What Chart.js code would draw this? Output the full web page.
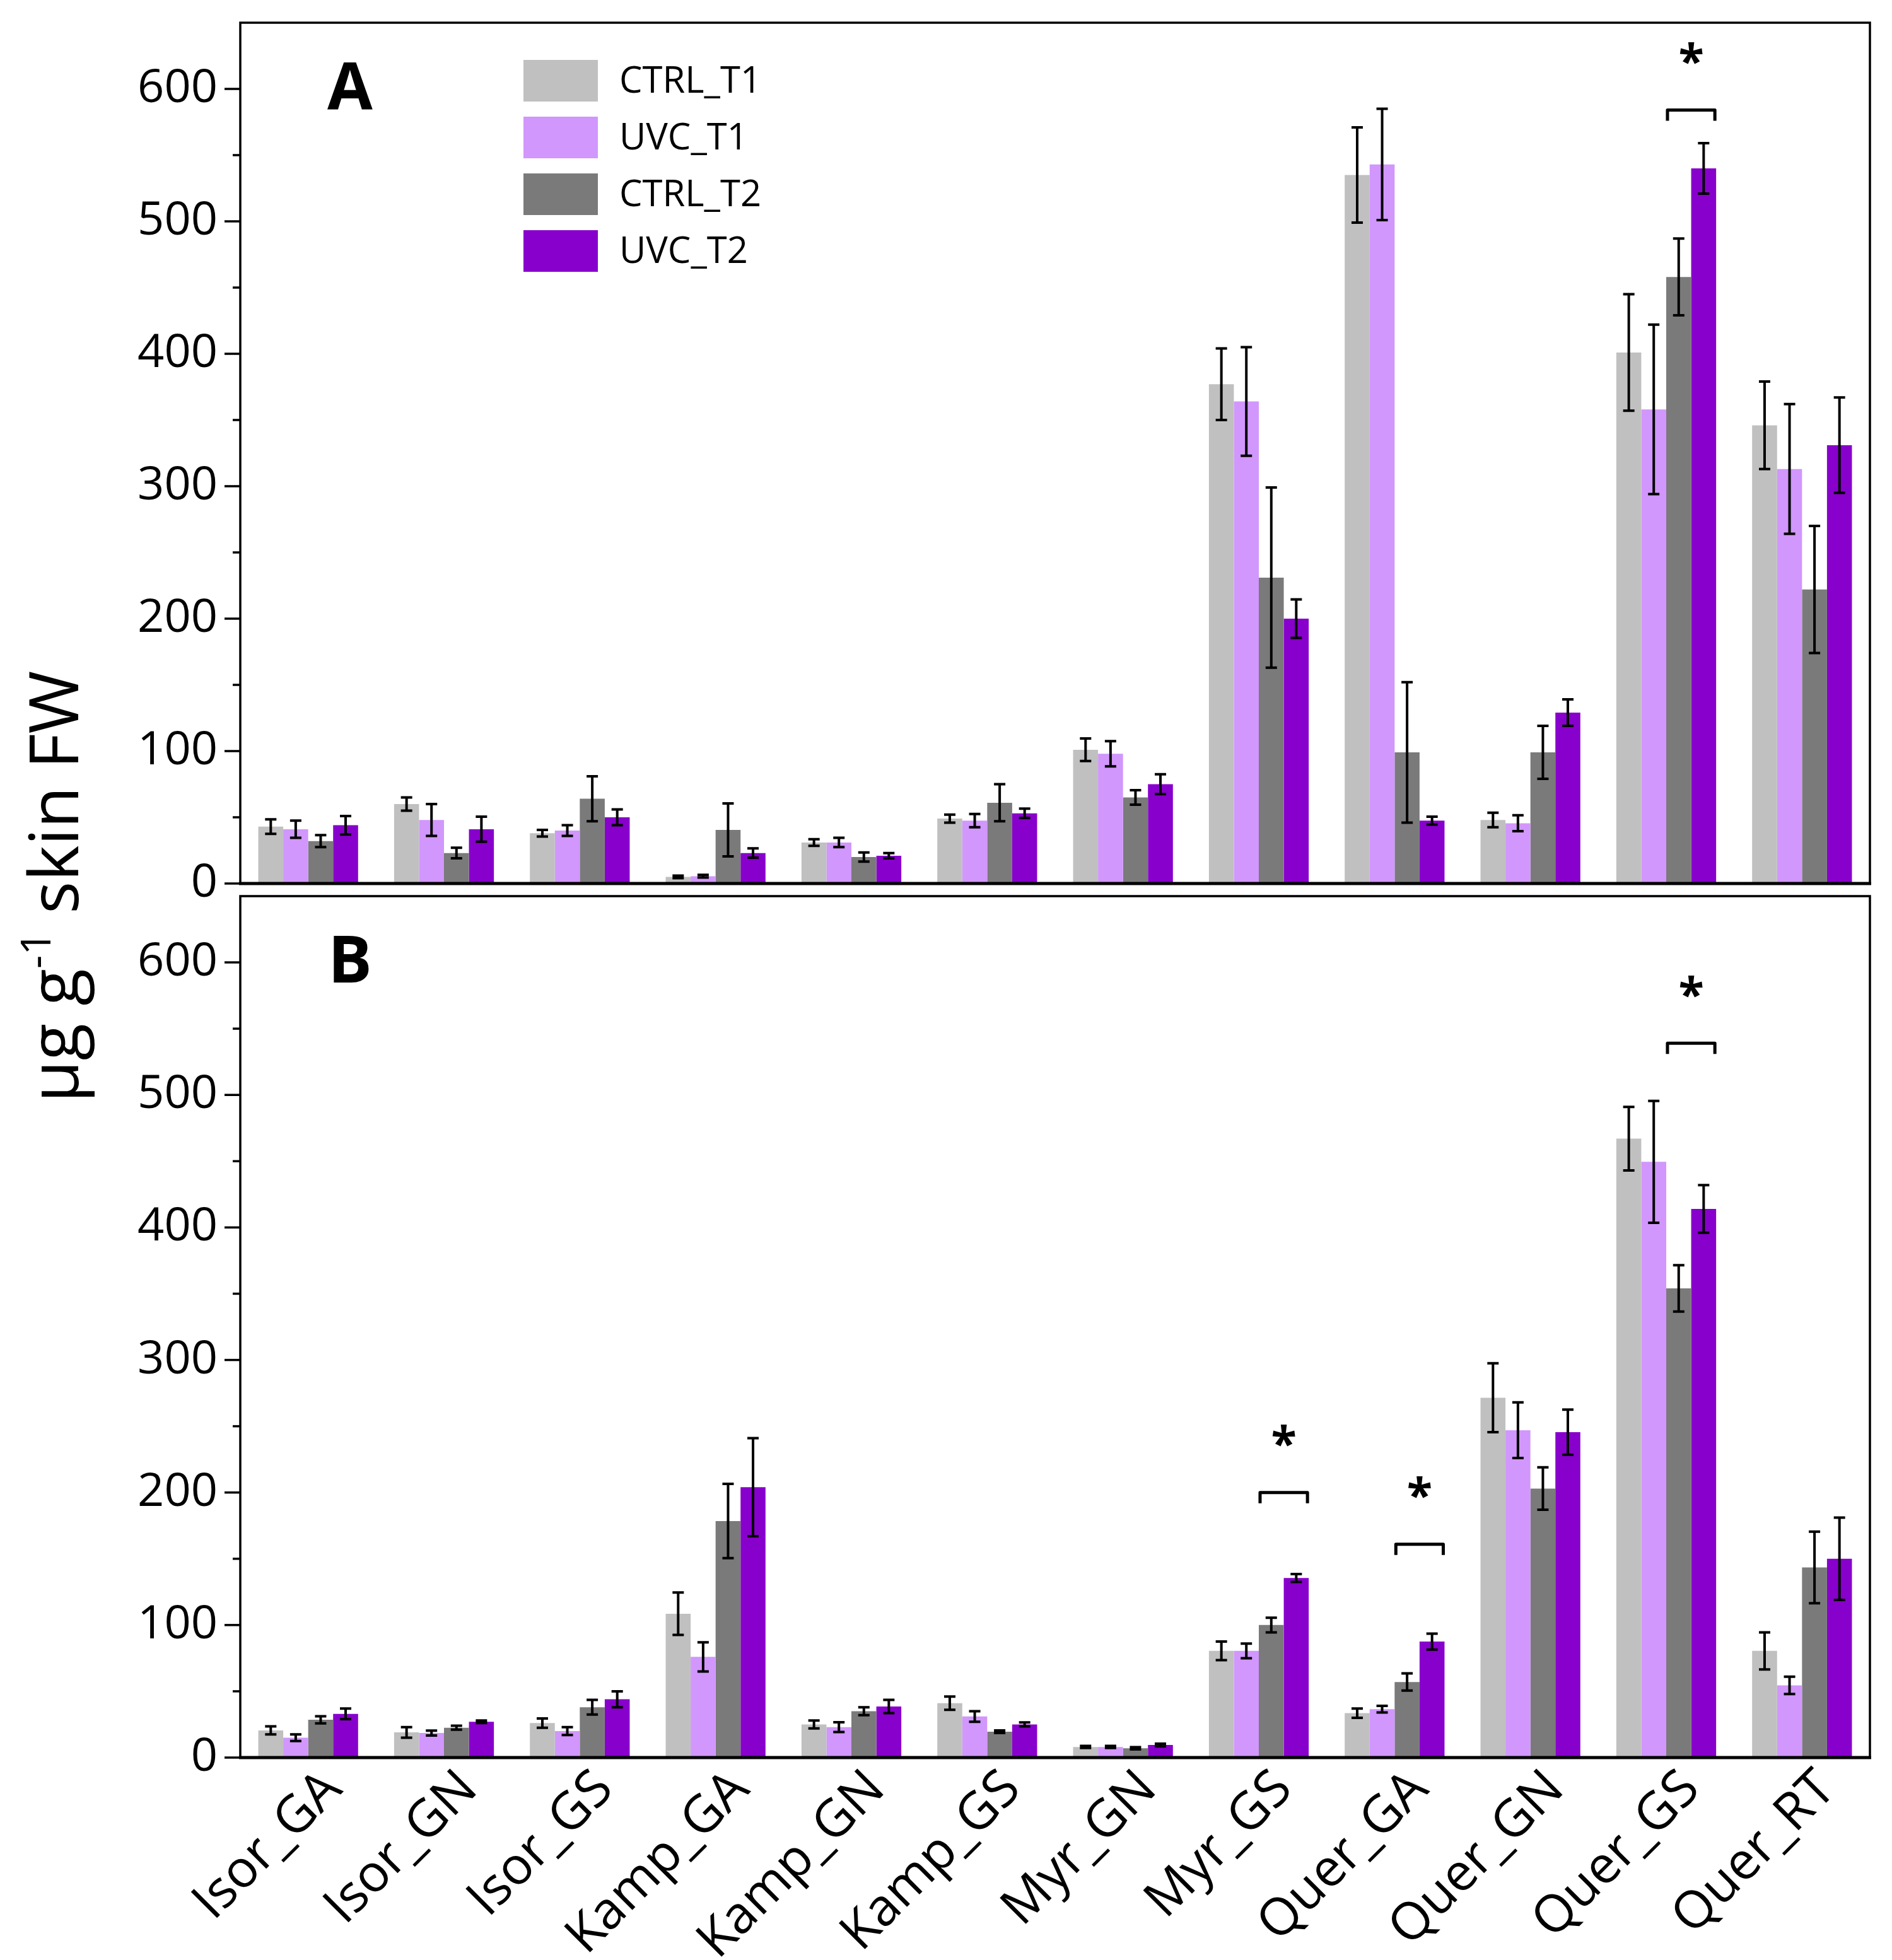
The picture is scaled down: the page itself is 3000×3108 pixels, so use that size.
<!DOCTYPE html>
<html>
<head>
<meta charset="utf-8">
<script src="https://cdn.jsdelivr.net/npm/chart.js@4.4.1/dist/chart.umd.min.js"></script>
<style>
    html, body { margin: 0; padding: 0; background: #fff; }
    #wrap { position: relative; width: 3000px; height: 3108px; }
    #wrap canvas { position: absolute; left: 0; top: 0; width: 3000px; height: 3108px; }
</style>
</head>
<body>
<div id="wrap">
    <canvas id="chartA" width="3000" height="3108"></canvas>
    <canvas id="chartB" width="3000" height="3108"></canvas>
</div>
<script>
/*-----------------------------Data-------------------------------------------------*/
const categories = ['Isor_GA', 'Isor_GN', 'Isor_GS', 'Kamp_GA', 'Kamp_GN', 'Kamp_GS',
    'Myr_GN', 'Myr_GS', 'Quer_GA', 'Quer_GN', 'Quer_GS', 'Quer_RT'];
const seriesNames = ['CTRL_T1', 'UVC_T1', 'CTRL_T2', 'UVC_T2'];
const yTickValues = [0, 100, 200, 300, 400, 500, 600];

// panel A
const ctrlT1A = [43, 60, 38, 5, 31, 49, 101, 377, 535, 48, 401, 346];
const uvcT1A = [41, 48, 40, 5.5, 31, 47.5, 98, 364, 543, 45.5, 358, 313];
const ctrlT2A = [32, 23, 64, 40.5, 20, 61, 65, 231, 99, 99, 458, 222];
const uvcT2A = [44, 41, 50, 23, 21, 53, 75, 200, 47.5, 129, 540, 331];
const ctrlT1AErr = [5.5, 5, 2.5, 1, 2.5, 3, 8.5, 27, 36, 5.5, 44, 33];
const uvcT1AErr = [6.5, 12, 4, 1, 3.5, 5, 9.5, 41, 42, 6, 64, 49];
const ctrlT2AErr = [4.5, 4, 17, 20, 3.5, 14, 5.5, 68, 53, 20, 29, 48];
const uvcT2AErr = [7, 9.5, 6, 3.5, 2, 3.5, 7.5, 14.5, 3, 10, 19, 36];

// panel B
const ctrlT1B = [20.5, 19, 26, 108.5, 25, 41, 8, 80.5, 33.5, 271.5, 467, 80.5];
const uvcT1B = [15, 18.5, 20, 76, 23, 31, 8, 80.5, 36.5, 247, 449.5, 54.5];
const ctrlT2B = [28.5, 22.5, 38, 178.5, 35, 19.5, 7, 100, 57, 203, 354, 143.5];
const uvcT2B = [33, 27, 44, 204, 38.5, 25, 9.5, 135.5, 87.5, 245.5, 414, 150];
const ctrlT1BErr = [3, 4, 3.5, 16, 3, 5, 0.8, 7, 3.5, 26, 24, 14];
const uvcT1BErr = [2.5, 1.8, 3, 11, 3.7, 4, 0.8, 5.5, 2.5, 21, 46, 6.5];
const ctrlT2BErr = [2.7, 1.5, 5.5, 28, 3, 1, 0.8, 5.5, 6.5, 16, 17.5, 27];
const uvcT2BErr = [4, 1, 6, 37, 5, 1.5, 1, 3, 6, 17, 18, 31];

// significance brackets (CTRL_T2 vs UVC_T2), bracket level in axis units
const sigA = [{ category: 'Quer_GS', level: 584 }];
const sigB = [{ category: 'Myr_GS', level: 200 }, { category: 'Quer_GA', level: 161 }, { category: 'Quer_GS', level: 539 }];

/*-----------------------------Styles-------------------------------------------------*/
const FONT = '"Open Sans", "Noto Sans", sans-serif';
const colors = ['#c0c0c0', '#d197fc', '#7a7a7a', '#8800cc'];

/*-----------------------------Plugins-------------------------------------------------*/
const errorBars = {
    id: 'errorBars',
    afterDatasetsDraw(chart) {
        const ctx = chart.ctx;
        const y = chart.scales.y;
        const errs = chart.options.errs;
        ctx.save();
        ctx.strokeStyle = '#000';
        ctx.lineWidth = 4;
        chart.data.datasets.forEach((ds, i) => {
            chart.getDatasetMeta(i).data.forEach((bar, j) => {
                const v = ds.data[j], e = errs[i][j];
                const yt = y.getPixelForValue(v + e);
                const yb = y.getPixelForValue(Math.max(v - e, 0));
                ctx.beginPath();
                ctx.moveTo(bar.x, yt); ctx.lineTo(bar.x, yb);
                ctx.moveTo(bar.x - 9, yt); ctx.lineTo(bar.x + 9, yt);
                ctx.moveTo(bar.x - 9, yb); ctx.lineTo(bar.x + 9, yb);
                ctx.stroke();
            });
        });
        ctx.restore();
    }
};

const frame = {
    id: 'frame',
    afterDraw(chart) {
        const ctx = chart.ctx;
        const a = chart.chartArea;
        const y = chart.scales.y;
        ctx.save();
        ctx.strokeStyle = '#000';
        ctx.lineWidth = 3.5;
        ctx.strokeRect(a.left, a.top, a.right - a.left, a.bottom - a.top);
        ctx.lineWidth = 5;
        ctx.beginPath();
        ctx.moveTo(a.left - 2, a.bottom); ctx.lineTo(a.right + 2, a.bottom);
        ctx.stroke();
        // y tick marks, major every 100 and minor in between
        ctx.lineWidth = 3.5;
        for (let v = 0; v <= 600; v += 50) {
            const py = y.getPixelForValue(v);
            const len = v % 100 === 0 ? 25 : 12;
            ctx.beginPath();
            ctx.moveTo(a.left - len, py); ctx.lineTo(a.left, py);
            ctx.stroke();
        }
        // panel letter
        ctx.fillStyle = '#000';
        ctx.font = 'bold 104px ' + FONT;
        ctx.textAlign = 'center';
        ctx.textBaseline = 'alphabetic';
        const m = ctx.measureText(chart.options.panel);
        ctx.fillText(chart.options.panel, 555, a.top + 100 + (m.actualBoundingBoxAscent - m.actualBoundingBoxDescent) / 2);
        ctx.restore();
    }
};

const significance = {
    id: 'significance',
    afterDraw(chart) {
        const ctx = chart.ctx;
        const y = chart.scales.y;
        ctx.save();
        ctx.strokeStyle = '#000';
        ctx.fillStyle = '#000';
        ctx.lineWidth = 5;
        ctx.lineJoin = 'round';
        chart.options.sig.forEach(s => {
            const j = categories.indexOf(s.category);
            const b2 = chart.getDatasetMeta(2).data[j];
            const b3 = chart.getDatasetMeta(3).data[j];
            const mid = (b2.x + b3.x) / 2;
            const half = b2.width * 0.95;
            const py = y.getPixelForValue(s.level);
            ctx.beginPath();
            ctx.moveTo(mid - half, py + 17);
            ctx.lineTo(mid - half, py);
            ctx.lineTo(mid + half, py);
            ctx.lineTo(mid + half, py + 17);
            ctx.stroke();
            ctx.font = 'bold 74px ' + FONT;
            ctx.textAlign = 'center';
            const m = ctx.measureText('*');
            ctx.fillText('*', mid, py - 90 + (m.actualBoundingBoxAscent - m.actualBoundingBoxDescent) / 2);
        });
        ctx.restore();
    }
};

const legendBox = {
    id: 'legendBox',
    afterDraw(chart) {
        if (!chart.options.showLegend) return;
        const ctx = chart.ctx;
        ctx.save();
        ctx.font = '58px ' + FONT;
        ctx.textAlign = 'left';
        ctx.textBaseline = 'middle';
        chart.data.datasets.forEach((ds, i) => {
            const cy = 128 + i * 90;
            ctx.fillStyle = ds.backgroundColor;
            ctx.fillRect(830, cy - 33, 118, 66);
            ctx.fillStyle = '#000';
            ctx.fillText(ds.label, 982, cy + 2);
        });
        ctx.restore();
    }
};

const yTitle = {
    id: 'yTitle',
    afterDraw(chart) {
        if (!chart.options.showLegend) return;
        const ctx = chart.ctx;
        const big = '108px ' + FONT, small = '66px ' + FONT;
        const parts = [['μg g', big, 0], ['-1', small, -44], [' skin FW', big, 0]];
        ctx.save();
        ctx.translate(124, 1406);
        ctx.rotate(-Math.PI / 2);
        ctx.fillStyle = '#000';
        ctx.textBaseline = 'alphabetic';
        ctx.textAlign = 'left';
        let total = 0;
        parts.forEach(p => { ctx.font = p[1]; total += ctx.measureText(p[0]).width; });
        let x = -total / 2;
        parts.forEach(p => {
            ctx.font = p[1];
            ctx.fillText(p[0], x, p[2]);
            x += ctx.measureText(p[0]).width;
        });
        ctx.restore();
    }
};

/*-----------------------------Charts-------------------------------------------------*/
function makeChart(id, series, errs, opts) {
    return new Chart(document.getElementById(id), {
        type: 'bar',
        data: {
            labels: categories,
            datasets: seriesNames.map((name, i) => ({
                label: name,
                data: series[i],
                backgroundColor: colors[i],
                borderWidth: 0
            }))
        },
        options: {
            responsive: false,
            animation: false,
            devicePixelRatio: 1,
            errs: errs,
            sig: opts.sig,
            panel: opts.panel,
            showLegend: opts.showLegend,
            layout: { padding: { left: 0, right: 35, top: opts.top, bottom: opts.bottom } },
            datasets: { bar: { categoryPercentage: 0.735, barPercentage: 1 } },
            plugins: { legend: { display: false }, tooltip: { enabled: false } },
            scales: {
                x: {
                    display: opts.showX,
                    grid: { display: false, drawTicks: false },
                    border: { display: false },
                    ticks: {
                        autoSkip: false, minRotation: 45, maxRotation: 45,
                        padding: 2, labelOffset: 40,
                        color: '#000', font: { family: FONT, size: 82 }
                    },
                    afterFit: s => { s.height = opts.showX ? 321 : 0; s.paddingLeft = 0; s.paddingRight = 0; }
                },
                y: {
                    min: 0, max: 650,
                    grid: { display: false, drawTicks: false },
                    border: { display: false },
                    ticks: {
                        stepSize: 50, autoSkip: false, padding: 36, color: '#000',
                        font: { family: FONT, size: 74 },
                        callback: v => yTickValues.includes(v) ? v : ''
                    },
                    afterFit: s => { s.width = 381; s.paddingTop = 0; s.paddingBottom = 0; }
                }
            }
        },
        plugins: [errorBars, frame, significance, legendBox, yTitle]
    });
}

function draw() {
    makeChart('chartA', [ctrlT1A, uvcT1A, ctrlT2A, uvcT2A],
        [ctrlT1AErr, uvcT1AErr, ctrlT2AErr, uvcT2AErr],
        { top: 36, bottom: 3108 - 1401, showX: false, sig: sigA, panel: 'A', showLegend: true });
    makeChart('chartB', [ctrlT1B, uvcT1B, ctrlT2B, uvcT2B],
        [ctrlT1BErr, uvcT1BErr, ctrlT2BErr, uvcT2BErr],
        { top: 1421, bottom: 0, showX: true, sig: sigB, panel: 'B', showLegend: false });
}

Promise.all([
    document.fonts.load('74px "Open Sans"'),
    document.fonts.load('bold 74px "Open Sans"')
]).then(draw, draw);
</script>
</body>
</html>
